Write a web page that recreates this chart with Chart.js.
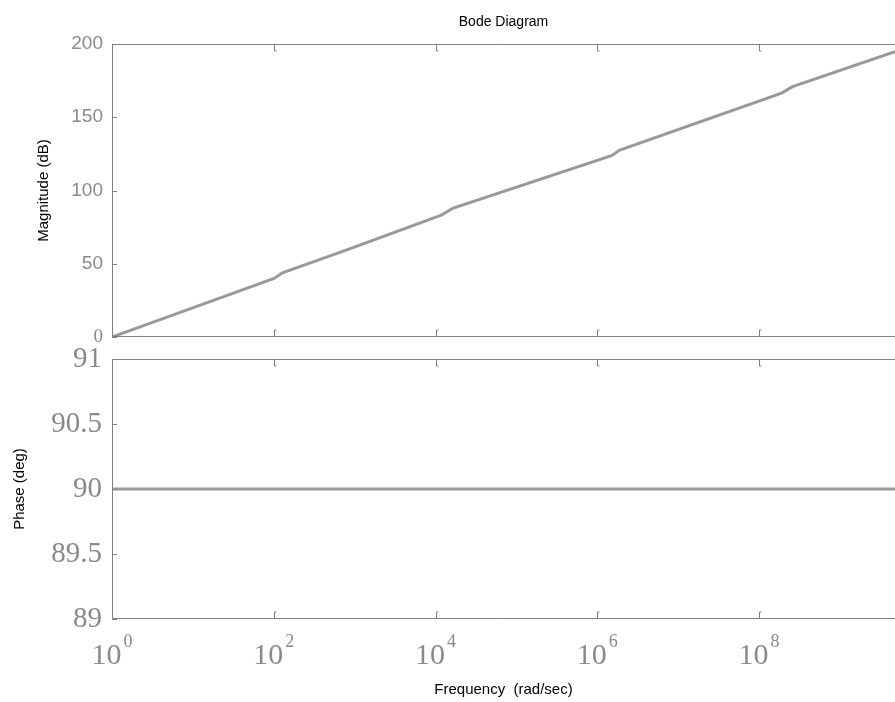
<!DOCTYPE html>
<html>
<head>
<meta charset="utf-8">
<script src="https://cdn.jsdelivr.net/npm/chart.js@4.4.1/dist/chart.umd.min.js"></script>
<style>
  body { margin: 0; background: #fff; width: 895px; height: 702px; position: relative; overflow: hidden; }
  canvas { position: absolute; left: 0; }
  #magChart { top: 0; }
  #phaseChart { top: 345px; }
</style>
</head>
<body>
<canvas id="magChart" width="895" height="345"></canvas>
<canvas id="phaseChart" width="895" height="357"></canvas>
<script>
const magFreq = [1, 101, 128, 900, 1.18e4, 1.66e4, 1.5e6, 1.9e6, 1.9e8, 2.6e8, 4.8e9];
const magDb = [0, 40.0, 43.8, 60.5, 83.2, 88.0, 123.8, 127.6, 166.5, 170.9, 194.7];
const phaseFreq = [1, 4.8e9];
const phaseDeg = [90, 90];
const freqTicks = [1, 1e2, 1e4, 1e6, 1e8];
const magTicks = [0, 50, 100, 150, 200];
const phaseTicks = [89, 89.5, 90, 90.5, 91];

const SANS = "'Liberation Sans', Arial, sans-serif";
const SERIF = "'Liberation Serif', 'Times New Roman', serif";
const AXIS_COLOR = "#808080";
const TICK_COLOR = "#8a8a8a";
const LINE_COLOR = "#999999";

// Cadre + petites graduations intérieures
const framePlugin = {
  id: "frame",
  afterDatasetsDraw(chart) {
    const { ctx, chartArea: a, scales } = chart;
    ctx.save();
    ctx.strokeStyle = AXIS_COLOR;
    ctx.lineWidth = 1;
    ctx.beginPath();
    ctx.moveTo(a.right, a.top + 0.5);
    ctx.lineTo(a.left + 0.5, a.top + 0.5);
    ctx.lineTo(a.left + 0.5, a.bottom - 0.5);
    ctx.lineTo(a.right, a.bottom - 0.5);
    freqTicks.forEach((v) => {
      if (v === 1) return;
      const px = Math.round(scales.x.getPixelForValue(v)) + 0.5;
      ctx.moveTo(px, a.top);
      ctx.lineTo(px, a.top + 7);
      ctx.lineTo(px + 2, a.top + 7);
      ctx.moveTo(px, a.bottom);
      ctx.lineTo(px, a.bottom - 7);
      ctx.lineTo(px + 2, a.bottom - 7);
    });
    scales.y.ticks.forEach((t) => {
      const py = Math.round(scales.y.getPixelForValue(t.value)) + 0.5;
      ctx.moveTo(a.left, py);
      ctx.lineTo(a.left + 5, py);
    });
    ctx.stroke();
    ctx.restore();
  },
};

// Étiquettes 10^n sous l'axe des fréquences
const powerLabels = {
  id: "powerLabels",
  afterDraw(chart) {
    const { ctx, chartArea: a, scales } = chart;
    ctx.save();
    ctx.fillStyle = TICK_COLOR;
    ctx.textAlign = "left";
    ctx.textBaseline = "alphabetic";
    freqTicks.forEach((v) => {
      const px = scales.x.getPixelForValue(v);
      const exp = String(Math.round(Math.log10(v)));
      ctx.font = "30px " + SERIF;
      const wb = ctx.measureText("10").width;
      ctx.font = "18px " + SERIF;
      const we = ctx.measureText(exp).width;
      const gap = 2;
      const start = px - (wb + gap + we) / 2;
      ctx.font = "30px " + SERIF;
      ctx.fillText("10", start, a.bottom + 45);
      ctx.font = "18px " + SERIF;
      ctx.fillText(exp, start + wb + gap, a.bottom + 28);
    });
    ctx.restore();
  },
};

function toPoints(xs, ys) {
  return xs.map((x, i) => ({ x: x, y: ys[i] }));
}

// largeur fixe de l'axe Y, sans marge pour les étiquettes qui débordent
function fixYAxis(s) {
  s.width = 112;
  s.paddingTop = 0;
  s.paddingBottom = 0;
}

const xBase = {
  type: "logarithmic",
  min: 1,
  max: 4.8e9,
  afterBuildTicks: (s) => {
    s.ticks = freqTicks.map((v) => ({ value: v }));
  },
  grid: { display: false, drawTicks: false },
  border: { display: false },
};

new Chart(document.getElementById("magChart"), {
  type: "line",
  data: {
    datasets: [
      {
        data: toPoints(magFreq, magDb),
        borderColor: LINE_COLOR,
        borderWidth: 3,
        pointRadius: 0,
        tension: 0,
      },
    ],
  },
  options: {
    responsive: false,
    animation: false,
    devicePixelRatio: 1,
    layout: { padding: { top: 0, bottom: 8, left: 0, right: 0 } },
    plugins: {
      legend: { display: false },
      tooltip: { enabled: false },
      title: {
        display: true,
        fullSize: false,
        text: "Bode Diagram",
        color: "#000",
        font: { family: SANS, size: 14, weight: "normal" },
        padding: { top: 14, bottom: 13.2 },
      },
    },
    scales: {
      x: Object.assign({}, xBase, { display: false }),
      y: {
        min: 0,
        max: 200,
        afterFit: fixYAxis,
        afterBuildTicks: (s) => {
          s.ticks = magTicks.map((v) => ({ value: v }));
        },
        grid: { display: false, drawTicks: false },
        border: { display: false },
        ticks: {
          padding: 9,
          color: TICK_COLOR,
          callback: (v) => String(v),
          font: (c) =>
            c.tick && c.tick.value === 0
              ? { family: SERIF, size: 19 }
              : { family: SANS, size: 19 },
        },
        title: {
          display: true,
          text: "Magnitude (dB)",
          color: "#000",
          font: { family: SANS, size: 15 },
          padding: { top: 35, bottom: 0 },
        },
      },
    },
  },
  plugins: [framePlugin],
});

new Chart(document.getElementById("phaseChart"), {
  type: "line",
  data: {
    datasets: [
      {
        data: toPoints(phaseFreq, phaseDeg),
        borderColor: LINE_COLOR,
        borderWidth: 3,
        pointRadius: 0,
      },
    ],
  },
  options: {
    responsive: false,
    animation: false,
    devicePixelRatio: 1,
    layout: { padding: { top: 14, bottom: 0, left: 0, right: 0 } },
    plugins: {
      legend: { display: false },
      tooltip: { enabled: false },
    },
    scales: {
      x: Object.assign({}, xBase, {
        afterFit: (s) => {
          s.height = 83;
          s.paddingLeft = 0;
          s.paddingRight = 0;
        },
        ticks: { display: false },
        title: {
          display: true,
          text: "Frequency  (rad/sec)",
          color: "#000",
          font: { family: SANS, size: 15 },
          padding: { top: 0, bottom: 3 },
        },
      }),
      y: {
        min: 89,
        max: 91,
        afterFit: fixYAxis,
        afterBuildTicks: (s) => {
          s.ticks = phaseTicks.map((v) => ({ value: v }));
        },
        grid: { display: false, drawTicks: false },
        border: { display: false },
        ticks: {
          padding: 10,
          color: TICK_COLOR,
          callback: (v) => String(v),
          font: { family: SERIF, size: 29 },
        },
        title: {
          display: true,
          text: "Phase (deg)",
          color: "#000",
          font: { family: SANS, size: 15 },
          padding: { top: 11, bottom: 0 },
        },
      },
    },
  },
  plugins: [framePlugin, powerLabels],
});
</script>
</body>
</html>
